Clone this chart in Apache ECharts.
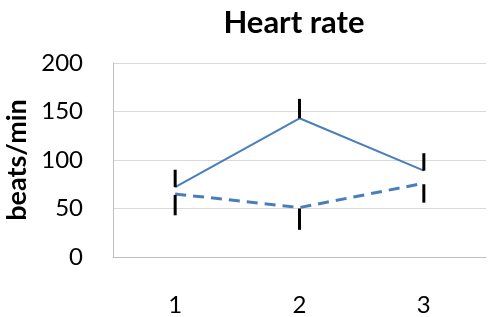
<!DOCTYPE html>
<html>
<head>
<meta charset="utf-8">
<script src="https://cdn.jsdelivr.net/npm/echarts@6/dist/echarts.min.js"></script>
<style>
  html, body { margin: 0; padding: 0; background: #fff; }
  #chart { width: 500px; height: 317px; }
</style>
</head>
<body>
<div id="chart"></div>
<script>
const categories = ["1", "2", "3"];
const solidValues = [72, 143, 89];
const solidErrUp = [18, 20, 18];
const dashedValues = [65, 51, 76];
const dashedErrDown = [22, 23, 20];

const chart = echarts.init(document.getElementById("chart"));

// vertical error bar, no caps
function errorBar(params, api) {
  const x = api.value(0);
  const p1 = api.coord([x, api.value(1)]);
  const p2 = api.coord([x, api.value(2)]);
  return {
    type: "line",
    shape: { x1: p1[0], y1: p1[1], x2: p2[0], y2: p2[1] },
    style: { stroke: "#000", lineWidth: 3 }
  };
}

const solidBars = categories.map((c, i) => [i, solidValues[i], solidValues[i] + solidErrUp[i]]);
const dashedBars = categories.map((c, i) => [i, dashedValues[i] - 1, dashedValues[i] - dashedErrDown[i]]);

const font = "Lato, 'Open Sans', sans-serif";

chart.setOption({
  animation: false,
  title: {
    text: "Heart rate",
    left: 289,
    textAlign: "center",
    top: 2,
    textStyle: { fontFamily: font, fontSize: 31, fontWeight: "bold", color: "#000" }
  },
  grid: { left: 113, right: 14, top: 63, bottom: 60, outerBoundsMode: "none" },
  xAxis: {
    type: "category",
    data: categories,
    axisTick: { show: false },
    axisLine: { lineStyle: { color: "#bfbfbf", width: 1 } },
    axisLabel: { fontFamily: font, fontSize: 24, color: "#000", margin: 36 }
  },
  yAxis: {
    type: "value",
    min: 0,
    max: 200,
    interval: 50,
    name: "beats/min",
    nameLocation: "middle",
    nameGap: 82,
    nameTextStyle: { fontFamily: font, fontSize: 27, fontWeight: "bold", color: "#000" },
    axisLine: { show: true, lineStyle: { color: "#bfbfbf", width: 1 } },
    axisTick: { show: false },
    axisLabel: { fontFamily: font, fontSize: 24, color: "#000", margin: 30 },
    splitLine: { lineStyle: { color: "#d9d9d9", width: 1 } }
  },
  series: [
    {
      type: "line",
      data: solidValues,
      symbol: "none",
      lineStyle: { color: "#4a7ebb", width: 2 }
    },
    {
      type: "line",
      data: dashedValues,
      symbol: "none",
      lineStyle: { color: "#4a7ebb", width: 3, type: [11, 7] }
    },
    { type: "custom", data: solidBars, renderItem: errorBar, z: 5 },
    { type: "custom", data: dashedBars, renderItem: errorBar, z: 5 }
  ]
});
</script>
</body>
</html>
